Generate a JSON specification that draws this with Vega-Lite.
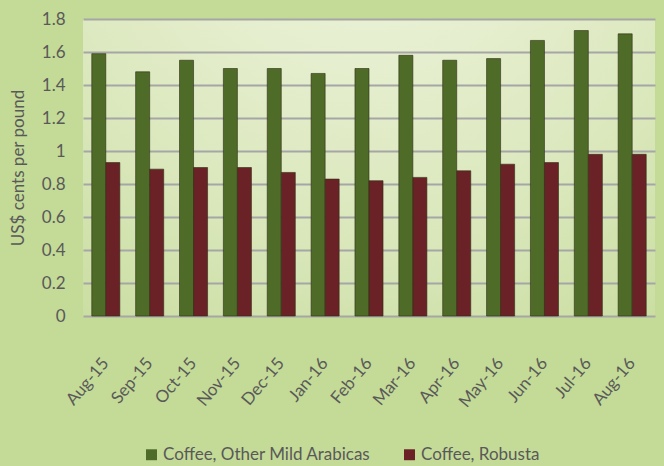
{
  "$schema": "https://vega.github.io/schema/vega-lite/v6.json",
  "width": 572,
  "height": 297,
  "autosize": "none",
  "padding": {"left": 83, "top": 19, "right": 9, "bottom": 150},
  "background": "#c4da97",
  "config": {
    "font": "Lato",
    "view": {
      "stroke": null,
      "fill": {
        "gradient": "radial",
        "x1": 0.5, "y1": 0, "r1": 0,
        "x2": 0.5, "y2": 0, "r2": 1,
        "stops": [
          {"offset": 0, "color": "#f1f5e2"},
          {"offset": 0.6, "color": "#dbe8bd"},
          {"offset": 1, "color": "#c6db9a"}
        ]
      }
    },
    "axis": {"labelColor": "#595959", "titleColor": "#595959", "domain": false, "ticks": false}
  },
  "data": {
    "values": [
      {"month": "Aug-15", "series": "Coffee, Other Mild Arabicas", "value": 1.59},
      {"month": "Sep-15", "series": "Coffee, Other Mild Arabicas", "value": 1.48},
      {"month": "Oct-15", "series": "Coffee, Other Mild Arabicas", "value": 1.55},
      {"month": "Nov-15", "series": "Coffee, Other Mild Arabicas", "value": 1.50},
      {"month": "Dec-15", "series": "Coffee, Other Mild Arabicas", "value": 1.50},
      {"month": "Jan-16", "series": "Coffee, Other Mild Arabicas", "value": 1.47},
      {"month": "Feb-16", "series": "Coffee, Other Mild Arabicas", "value": 1.50},
      {"month": "Mar-16", "series": "Coffee, Other Mild Arabicas", "value": 1.58},
      {"month": "Apr-16", "series": "Coffee, Other Mild Arabicas", "value": 1.55},
      {"month": "May-16", "series": "Coffee, Other Mild Arabicas", "value": 1.56},
      {"month": "Jun-16", "series": "Coffee, Other Mild Arabicas", "value": 1.67},
      {"month": "Jul-16", "series": "Coffee, Other Mild Arabicas", "value": 1.73},
      {"month": "Aug-16", "series": "Coffee, Other Mild Arabicas", "value": 1.71},
      {"month": "Aug-15", "series": "Coffee, Robusta", "value": 0.93},
      {"month": "Sep-15", "series": "Coffee, Robusta", "value": 0.89},
      {"month": "Oct-15", "series": "Coffee, Robusta", "value": 0.90},
      {"month": "Nov-15", "series": "Coffee, Robusta", "value": 0.90},
      {"month": "Dec-15", "series": "Coffee, Robusta", "value": 0.87},
      {"month": "Jan-16", "series": "Coffee, Robusta", "value": 0.83},
      {"month": "Feb-16", "series": "Coffee, Robusta", "value": 0.82},
      {"month": "Mar-16", "series": "Coffee, Robusta", "value": 0.84},
      {"month": "Apr-16", "series": "Coffee, Robusta", "value": 0.88},
      {"month": "May-16", "series": "Coffee, Robusta", "value": 0.92},
      {"month": "Jun-16", "series": "Coffee, Robusta", "value": 0.93},
      {"month": "Jul-16", "series": "Coffee, Robusta", "value": 0.98},
      {"month": "Aug-16", "series": "Coffee, Robusta", "value": 0.98}
    ]
  },
  "mark": {"type": "bar", "stroke": "#2e2e14", "strokeWidth": 0.6},
  "encoding": {
    "x": {
      "field": "month", "type": "nominal", "sort": null,
      "scale": {"paddingInner": 0.36, "paddingOuter": 0.2},
      "axis": {"title": null, "labelAngle": -50, "labelAlign": "right", "labelBaseline": "middle", "labelFontSize": 17, "labelPadding": 44, "labelOffset": 0, "grid": false}
    },
    "xOffset": {"field": "series", "type": "nominal", "scale": {"paddingInner": 0}},
    "y": {
      "field": "value", "type": "quantitative",
      "scale": {"domain": [0, 1.8], "nice": false},
      "axis": {
        "title": "US$ cents per pound", "titleFontSize": 17, "titleFontWeight": "normal", "titlePadding": 14,
        "values": [0, 0.2, 0.4, 0.6, 0.8, 1, 1.2, 1.4, 1.6, 1.8],
        "format": "~g",
        "labelFontSize": 17, "labelPadding": 18,
        "grid": true, "gridColor": "#a6a6a6", "gridWidth": 2
      }
    },
    "color": {
      "field": "series", "type": "nominal",
      "scale": {"domain": ["Coffee, Other Mild Arabicas", "Coffee, Robusta"], "range": ["#4f6b28", "#6b2226"]},
      "legend": {
        "title": null, "orient": "none", "direction": "horizontal",
        "legendX": 60, "legendY": 427,
        "symbolType": "square", "symbolSize": 120, "symbolStrokeWidth": 0,
        "labelFontSize": 17, "labelLimit": 0, "labelColor": "#595959", "labelOffset": 3, "columnPadding": 30
      }
    }
  }
}
